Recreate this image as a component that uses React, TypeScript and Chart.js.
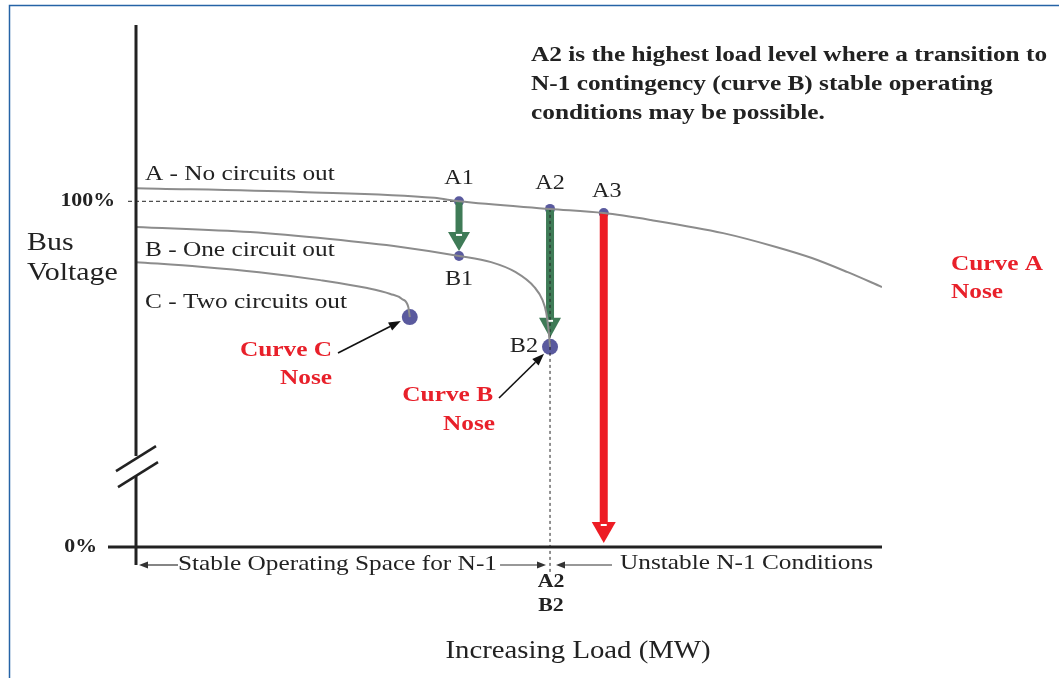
import React, { useEffect, useRef } from "react";
import { Chart, registerables } from "chart.js";

Chart.register(...registerables);

// ---------- data (load in % of plotted range, voltage in % of nominal) ----------
const curveALoad = [0, 22.0, 40.0, 43.3, 55.5, 62.7, 69.0, 78.7, 85.8, 90.6, 95.4, 100];
const curveAVoltage = [103.8, 102.7, 101.0, 100, 97.8, 96.6, 94.6, 90.8, 86.8, 83.6, 79.5, 75.2];

const curveBLoad = [0, 15.3, 26.0, 35.5, 43.3, 47.6, 50.9, 53.4, 54.5, 55.0, 55.3, 55.5];
const curveBVoltage = [92.6, 91.1, 89.1, 86.8, 84.2, 82.4, 79.5, 75.2, 71.4, 67.7, 62.8, 57.9];

const curveCLoad = [0, 8.6, 16.5, 24.7, 31.0, 34.1, 35.7, 36.5, 36.7];
const curveCVoltage = [82.4, 81.1, 79.5, 77.2, 74.9, 73.2, 71.7, 69.4, 66.5];

const pointNames = ["A1", "B1", "A2", "B2", "A3", "C"];
const pointLoad = [43.3, 43.3, 55.5, 55.5, 62.7, 36.7];
const pointVoltage = [100, 84.2, 97.8, 57.9, 96.6, 66.5];
const pointIsNose = [false, false, false, true, false, true];

const yTickValues = [0, 100];
const yTickLabels = ["0%", "100%"];
const axisBreakVoltage = 23.4;

const curveLabels = ["A - No circuits out", "B - One circuit out", "C - Two circuits out"];
const noteLines = [
  "A2 is the highest load level where a transition to",
  "N-1 contingency (curve B) stable operating",
  "conditions may be possible.",
];

const SERIF = "'Liberation Serif', 'Times New Roman', Times, serif";
const SX = 1.15;

function txt(
  ctx: CanvasRenderingContext2D,
  s: string,
  x: number,
  y: number,
  size: number,
  bold: boolean,
  color: string,
  align: CanvasTextAlign = "left"
) {
  ctx.save();
  ctx.font = `${bold ? "bold " : ""}${size}px ${SERIF}`;
  ctx.fillStyle = color;
  ctx.textAlign = align;
  ctx.textBaseline = "middle";
  ctx.translate(x, y);
  ctx.scale(SX, 1);
  ctx.fillText(s, 0, 0);
  ctx.restore();
}

function line(ctx: CanvasRenderingContext2D, x1: number, y1: number, x2: number, y2: number, color: string, w: number, dash: number[] = []) {
  ctx.save();
  ctx.strokeStyle = color;
  ctx.lineWidth = w;
  ctx.setLineDash(dash);
  ctx.beginPath();
  ctx.moveTo(x1, y1);
  ctx.lineTo(x2, y2);
  ctx.stroke();
  ctx.restore();
}

// thin pointer arrow with filled head at (x2,y2)
function pointer(ctx: CanvasRenderingContext2D, x1: number, y1: number, x2: number, y2: number, color: string, w: number, head: number, hw: number) {
  const a = Math.atan2(y2 - y1, x2 - x1);
  const bx = x2 - Math.cos(a) * head;
  const by = y2 - Math.sin(a) * head;
  line(ctx, x1, y1, bx, by, color, w);
  ctx.save();
  ctx.fillStyle = color;
  ctx.beginPath();
  ctx.moveTo(x2, y2);
  ctx.lineTo(bx + Math.sin(a) * hw, by - Math.cos(a) * hw);
  ctx.lineTo(bx - Math.sin(a) * hw, by + Math.cos(a) * hw);
  ctx.closePath();
  ctx.fill();
  ctx.restore();
}

// thick vertical block arrow
function blockArrow(ctx: CanvasRenderingContext2D, x: number, yTop: number, yTip: number, color: string, shaftW: number, headH: number, headW: number) {
  ctx.save();
  ctx.fillStyle = color;
  ctx.fillRect(x - shaftW / 2, yTop, shaftW, yTip - headH - yTop + 1);
  ctx.beginPath();
  ctx.moveTo(x - headW / 2, yTip - headH);
  ctx.lineTo(x + headW / 2, yTip - headH);
  ctx.lineTo(x, yTip);
  ctx.closePath();
  ctx.fill();
  ctx.fillStyle = "#ffffff";
  ctx.fillRect(x - 3, yTip - headH + 2, 6, 2);
  ctx.restore();
}

const diagramPlugin = {
  id: "diagram",
  beforeDraw(chart: any) {
    const { ctx, width, height } = chart;
    ctx.save();
    ctx.fillStyle = "#ffffff";
    ctx.fillRect(0, 0, width, height);
    ctx.strokeStyle = "#2563a6";
    ctx.lineWidth = 1.5;
    ctx.beginPath();
    ctx.moveTo(9.5, height);
    ctx.lineTo(9.5, 5.5);
    ctx.lineTo(width, 5.5);
    ctx.stroke();
    ctx.restore();
  },
  afterDatasetDraw(chart: any, args: any) {
    if (args.index !== 2) return;
    const { ctx, chartArea: area } = chart;
    const xs = chart.scales.x;
    const ys = chart.scales.y;
    const px = (i: number) => xs.getPixelForValue(pointLoad[i]);
    const py = (i: number) => ys.getPixelForValue(pointVoltage[i]);

    // 100% reference line up to A1
    line(ctx, area.left - 8, ys.getPixelForValue(100), px(0), ys.getPixelForValue(100), "#222", 1, [4, 3]);

    // green arrows A1 -> B1, A2 -> B2
    blockArrow(ctx, px(0), py(0), py(1) - 5, "#3f7b57", 7, 19, 22);
    blockArrow(ctx, px(2), py(2), py(3) - 9, "#3f7b57", 8, 20, 22);
    // red arrow A3 -> 0%
    blockArrow(ctx, px(4), py(4), ys.getPixelForValue(0) - 4, "#ed1c24", 8, 21, 24);

    // dotted line at A2/B2 load
    line(ctx, px(2), py(2), px(2), area.bottom + 28, "#222", 1, [3, 3]);
  },
  afterDraw(chart: any) {
    const { ctx, chartArea: area } = chart;
    const xs = chart.scales.x;
    const ys = chart.scales.y;
    const px = (i: number) => xs.getPixelForValue(pointLoad[i]);
    const py = (i: number) => ys.getPixelForValue(pointVoltage[i]);
    const axisColor = "#222";

    // axes
    const brk = ys.getPixelForValue(axisBreakVoltage);
    line(ctx, area.left, area.top, area.left, brk - 10, axisColor, 3);
    line(ctx, area.left, brk + 10, area.left, area.bottom + 18, axisColor, 3);
    line(ctx, area.left - 20, brk + 5, area.left + 20, brk - 20, axisColor, 2.5);
    line(ctx, area.left - 18, brk + 21, area.left + 22, brk - 4, axisColor, 2.5);
    line(ctx, area.left - 28, area.bottom, area.right, area.bottom, axisColor, 3);

    // y tick labels
    txt(ctx, yTickLabels[1], area.left - 21, ys.getPixelForValue(yTickValues[1]), 19, true, "#222", "right");
    txt(ctx, yTickLabels[0], area.left - 39, ys.getPixelForValue(yTickValues[0]), 19, true, "#222", "right");
    txt(ctx, "Bus", 27, 243, 26, false, "#222");
    txt(ctx, "Voltage", 27, 273, 26, false, "#222");

    // curve labels
    txt(ctx, curveLabels[0], area.left + 9, 174, 22, false, "#222");
    txt(ctx, curveLabels[1], area.left + 9, 250, 22, false, "#222");
    txt(ctx, curveLabels[2], area.left + 9, 302, 22, false, "#222");

    // point labels
    txt(ctx, pointNames[0], px(0), py(0) - 23, 21, false, "#222", "center");
    txt(ctx, pointNames[2], px(2), py(2) - 25, 21, false, "#222", "center");
    txt(ctx, pointNames[4], px(4) + 3, py(4) - 22, 21, false, "#222", "center");
    txt(ctx, pointNames[1], px(1), py(1) + 24, 21, false, "#222", "center");
    txt(ctx, pointNames[3], px(3) - 12, py(3), 21, false, "#222", "right");

    // nose callouts
    const red = "#e8202a";
    txt(ctx, "Curve C", 332, 350, 22, true, red, "right");
    txt(ctx, "Nose", 332, 378, 22, true, red, "right");
    pointer(ctx, 338, 353, px(5) - 9, py(5) + 4, "#111", 1.6, 12, 4.5);
    txt(ctx, "Curve B", 493, 395, 22, true, red, "right");
    txt(ctx, "Nose", 495, 424, 22, true, red, "right");
    pointer(ctx, 499, 398, px(3) - 6, py(3) + 7, "#111", 1.6, 12, 4.5);
    txt(ctx, "Curve A", 951, 264, 22, true, red, "left");
    txt(ctx, "Nose", 951, 292, 22, true, red, "left");

    // note
    noteLines.forEach((s, i) => txt(ctx, s, 531, 55 + i * 29, 22, true, "#222", "left"));

    // bottom region brackets
    const by = area.bottom + 18;
    const ax = px(2);
    pointer(ctx, area.left + 42, by, area.left + 3, by, "#333", 1.2, 9, 3.5);
    txt(ctx, "Stable Operating Space for N-1", area.left + 42, by - 1, 22, false, "#222", "left");
    pointer(ctx, ax - 50, by, ax - 4, by, "#333", 1.2, 9, 3.5);
    pointer(ctx, ax + 62, by, ax + 6, by, "#333", 1.2, 9, 3.5);
    txt(ctx, "Unstable N-1 Conditions", ax + 70, by - 2, 22, false, "#222", "left");
    txt(ctx, pointNames[2], ax + 1, area.bottom + 35, 19, true, "#222", "center");
    txt(ctx, pointNames[3], ax + 1, area.bottom + 59, 19, true, "#222", "center");

    // x axis title
    txt(ctx, "Increasing Load (MW)", 578, 651, 25, false, "#222", "center");
  },
};

export default function App() {
  const ref = useRef<HTMLCanvasElement>(null);
  useEffect(() => {
    if (!ref.current) return;
    const toXY = (xs: number[], ys: number[]) => xs.map((x, i) => ({ x, y: ys[i] }));
    const curveStyle = {
      showLine: true,
      borderColor: "#8c8c8c",
      borderWidth: 2,
      pointRadius: 0,
      cubicInterpolationMode: "monotone",
      fill: false,
    };
    const chart = new Chart(ref.current, {
      type: "scatter",
      data: {
        datasets: [
          { label: "A", data: toXY(curveALoad, curveAVoltage), ...curveStyle },
          { label: "B", data: toXY(curveBLoad, curveBVoltage), ...curveStyle },
          { label: "C", data: toXY(curveCLoad, curveCVoltage), ...curveStyle },
          {
            label: "points",
            data: toXY(pointLoad, pointVoltage),
            showLine: false,
            pointRadius: pointIsNose.map((n) => (n ? 8 : 5)),
            pointBackgroundColor: "#5a5a9e",
            pointBorderWidth: 0,
          },
        ],
      },
      options: {
        responsive: false,
        animation: false,
        devicePixelRatio: 1,
        layout: { padding: { left: 136, right: 177, top: 25, bottom: 131 } },
        plugins: { legend: { display: false }, tooltip: { enabled: false } },
        events: [],
        scales: {
          x: { type: "linear", min: 0, max: 100, display: false },
          y: { type: "linear", min: 0, max: 151, display: false },
        },
      },
      plugins: [diagramPlugin],
    } as any);
    return () => chart.destroy();
  }, []);
  return (
    <div style={{ position: "fixed", left: 0, top: 0, width: 1059, height: 678, background: "#fff" }}>
      <canvas ref={ref} width={1059} height={678} style={{ display: "block" }} />
    </div>
  );
}
